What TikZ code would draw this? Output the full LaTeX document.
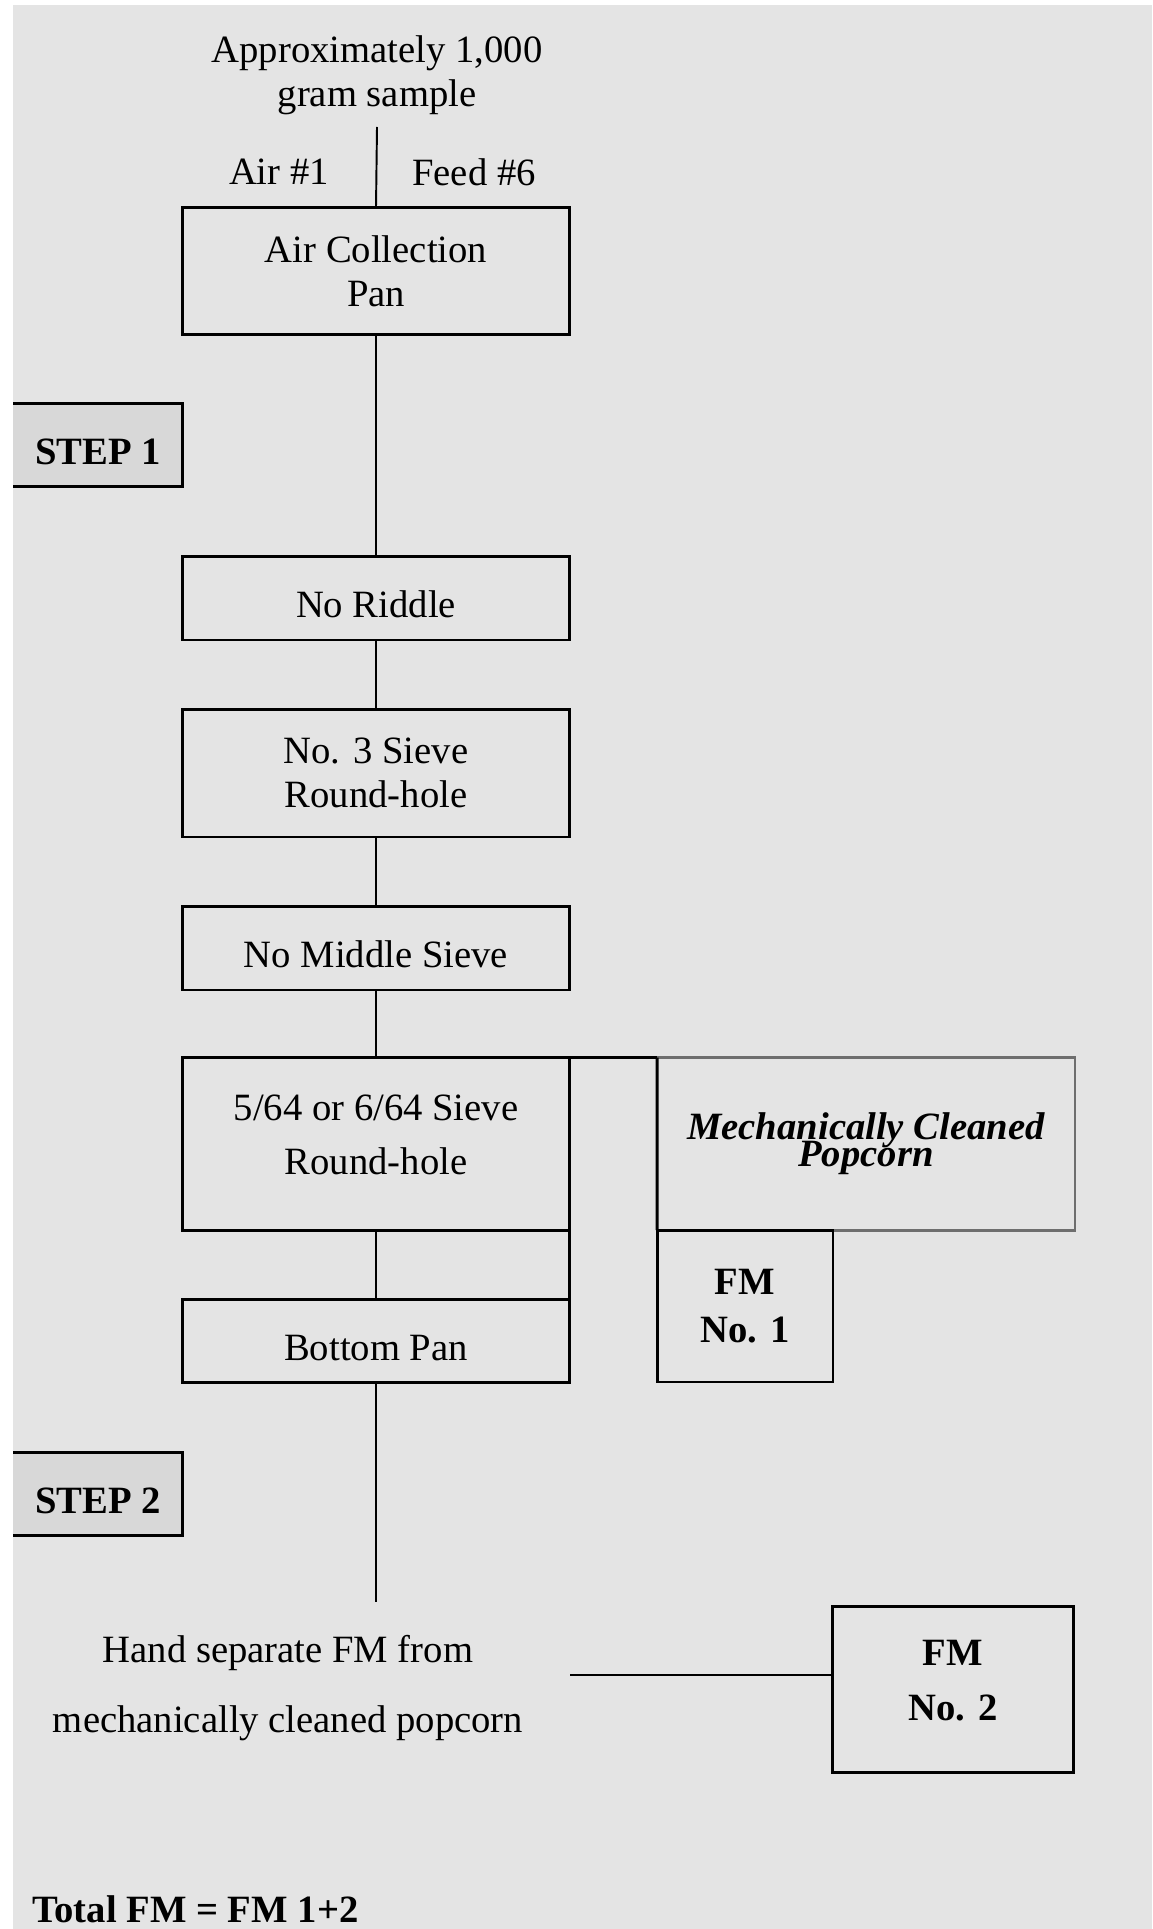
\documentclass[tikz,border=0pt]{standalone}
\usepackage{fontspec}
\setmainfont{Liberation Serif}
\usetikzlibrary{positioning}

\definecolor{paper}{HTML}{E4E4E4}
\definecolor{stepgray}{HTML}{D8D8D8}
\definecolor{mcpline}{HTML}{6E6E6E}
\newcommand\boxfont{\fontsize{22}{25}\selectfont}
\newcommand\mcpfont{\bfseries\itshape\fontsize{22}{15.4}\selectfont\lineskiplimit=-50pt\relax}

\begin{document}
\begin{tikzpicture}[
  x=0.02cm, y=-0.02cm,
  box/.style={draw, line width=1.7pt, outer sep=0pt, align=center, font=\boxfont, inner sep=0pt, minimum width=7.76cm},
  sink/.style={execute at begin node={\rule{0pt}{22pt}}},
  lift/.style={execute at end node={\rule[-10pt]{0pt}{10pt}}},
  fmbox/.style={box, font=\bfseries\boxfont},
  stepbox/.style={fill=stepgray, sink, outer sep=0pt, font=\bfseries\boxfont, inner sep=0pt, minimum width=3.4cm, minimum height=1.66cm},
  plain/.style={align=center, font=\boxfont, inner sep=0pt},
  link/.style={line width=1.1pt}
  ]

  % page and background
  \useasboundingbox (0,0) rectangle (1152,1929);
  \fill[paper] (13,5) rectangle (1152,1929);

  % sample on top
  \node[plain] (sample) at (377,75) {Approximately 1,000\\gram sample};
  \coordinate (sampletop) at (377,127);
  \node[plain] (air) at (279,172) {Air \#1};
  \node[plain] (feed) at (474,172) {Feed \#6};

  % main column
  \node[box, sink, minimum height=2.56cm] (aircoll) at (376,271) {Air Collection\\Pan};
  \node[box, sink, minimum height=1.68cm] (noriddle) at (376,598) {No Riddle};
  \node[box, sink, minimum height=2.56cm] (sieve3) at (376,773) {No. 3 Sieve\\Round-hole};
  \node[box, sink, minimum height=1.68cm] (nomiddle) at (376,948) {No Middle Sieve};
  \node[box, minimum height=3.46cm] (sieve564) at (376,1144) {};
  \node[plain, font=\fontsize{22}{31}\selectfont] (sieve564txt) at (376,1135) {5/64 or 6/64 Sieve\\Round-hole};
  \node[box, sink, minimum height=1.66cm] (bottompan) at (376,1341) {Bottom Pan};
  \coordinate (handtop) at (376,1602);

  % right side
  \node[draw=mcpline, line width=1.2pt, outer sep=0pt, minimum width=8.36cm, minimum height=3.46cm,
        align=center, inner sep=0pt, font=\mcpfont]
        (mcp) at (866,1144) {Mechanically Cleaned\\Popcorn};
  \node[fmbox, minimum width=3.52cm, minimum height=3.04cm, font=\bfseries\fontsize{22}{27}\selectfont]
        (fm1) at (745,1306) {FM\\No. 1};

  % steps
  \node[stepbox] (step1) at (98,445) {STEP 1};
  \node[stepbox] (step2) at (98,1494) {STEP 2};
  \draw[line width=1.7pt] (step1.north west) -- (step1.north east) -- (step1.south east) -- (step1.south west);
  \draw[line width=1.7pt] (step2.north west) -- (step2.north east) -- (step2.south east) -- (step2.south west);

  % hand separation
  \node[plain, font=\fontsize{22}{40}\selectfont] (hand) at (288,1688) {Hand separate FM from\\mechanically cleaned popcorn};
  \coordinate (handout) at (570,1675);
  \node[fmbox, lift, minimum width=4.82cm, minimum height=3.32cm, font=\bfseries\fontsize{22}{31}\selectfont]
        (fm2) at (953,1689) {FM\\No. 2};

  \node[anchor=west, inner sep=0pt, font=\bfseries\boxfont] (total) at (32,1909) {Total FM = FM 1+2};

  % connectors
  \draw[link] (sampletop) -- (aircoll.north);
  \draw[link] (aircoll.south) -- (noriddle.north);
  \draw[link] (noriddle.south) -- (sieve3.north);
  \draw[link] (sieve3.south) -- (nomiddle.north);
  \draw[link] (nomiddle.south) -- (sieve564.north);
  \draw[link] (sieve564.south) -- (bottompan.north);
  \draw[line width=1.7pt] (sieve564.north east) -- (mcp.north west);
  \draw[line width=1.7pt] (mcp.north west) -- (fm1.north west);
  \draw[line width=1.7pt] (sieve564.south east) -- (bottompan.north east);
  \draw[link] (bottompan.south) -- (handtop);
  \draw[link] (handout) -- (handout -| fm2.west);

\end{tikzpicture}
\end{document}
